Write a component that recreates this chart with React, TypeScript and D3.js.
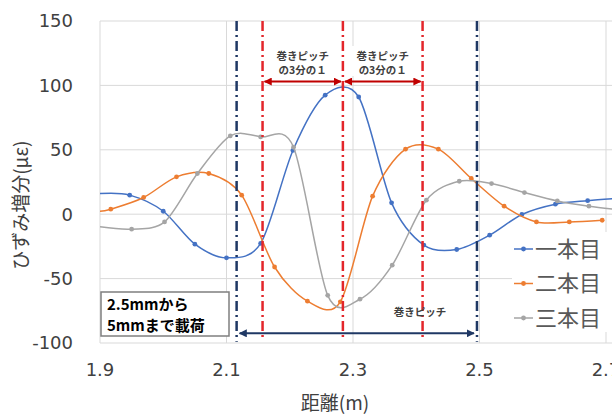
import React from "react";
import * as d3 from "d3";

const seriesNames = ["一本目", "二本目", "三本目"];
const seriesColors = ["#4472C4", "#ED7D31", "#A5A5A5"];

const blueX = [1.9, 1.947, 2.0, 2.05, 2.1, 2.154, 2.205, 2.256, 2.309, 2.361, 2.412, 2.464, 2.516, 2.567, 2.62, 2.671, 2.723];
const blueY = [16, 14.8, 2.3, -23.3, -33.9, -22.7, 49.5, 92.4, 91, 8.8, -24, -27.4, -16.3, -0.2, 7.8, 10.5, 12.4];

const orangeX = [1.9, 1.917, 1.969, 2.021, 2.072, 2.124, 2.176, 2.228, 2.28, 2.331, 2.383, 2.435, 2.487, 2.539, 2.59, 2.642, 2.694];
const orangeY = [2.3, 3.9, 13, 29, 31.6, 14.8, -41, -67.5, -68, 14, 50.5, 50.5, 27.7, 6.2, -6, -6, -4.7];

const grayX = [1.9, 1.95, 2.002, 2.054, 2.106, 2.154, 2.206, 2.26, 2.311, 2.362, 2.416, 2.468, 2.519, 2.571, 2.623, 2.673, 2.723];
const grayY = [-9.8, -11.6, -6, 31.6, 60.8, 60, 52, -63, -66, -39.6, 10.9, 25.6, 23.8, 16.8, 10.3, 6.2, 3.2];

const xTicks = [1.9, 2.1, 2.3, 2.5, 2.7];
const xTickLabels = ["1.9", "2.1", "2.3", "2.5", "2.7"];
const yTicks = [-100, -50, 0, 50, 100, 150];

const pitchLines = [2.116, 2.496];
const thirdLines = [2.157, 2.284, 2.41];

const W = 612;
const H = 417;

export default function App() {
  const x = d3.scaleLinear().domain([1.9, 2.7]).range([100, 606]);
  const y = d3.scaleLinear().domain([-100, 150]).range([343, 21]);
  const line = d3
    .line<[number, number]>()
    .x((d) => x(d[0]))
    .y((d) => y(d[1]))
    .curve(d3.curveCardinal.tension(0.1));

  const series = [
    blueX.map((v, i) => [v, blueY[i]] as [number, number]),
    orangeX.map((v, i) => [v, orangeY[i]] as [number, number]),
    grayX.map((v, i) => [v, grayY[i]] as [number, number]),
  ];

  const tickFont = "'DejaVu Sans', sans-serif";
  const jp = "'Noto Sans CJK JP', sans-serif";
  const navy = "#1F3864";
  const red = "#E3262B";
  const darkRed = "#C00000";

  const arrowY = y(103);
  const pitchArrowY = y(-92.5);

  return (
    <svg
      width={W}
      height={H}
      style={{ position: "absolute", left: 0, top: 0, background: "#fff" }}
    >
      <defs>
        <clipPath id="plot">
          <rect x={100} y={0} width={W - 100} height={344} />
        </clipPath>
        <marker id="arrRed" viewBox="0 0 10 10" refX="9" refY="5" markerWidth="4" markerHeight="4" orient="auto-start-reverse">
          <path d="M0,0 L10,5 L0,10 z" fill={darkRed} />
        </marker>
        <marker id="arrNavy" viewBox="0 0 10 10" refX="9" refY="5" markerWidth="4" markerHeight="4" orient="auto-start-reverse">
          <path d="M0,0 L10,5 L0,10 z" fill={navy} />
        </marker>
      </defs>
      <rect x={0} y={0} width={W} height={H} fill="#fff" />

      {/* gridlines */}
      {yTicks.map((t) => (
        <line key={"gy" + t} x1={100} x2={W} y1={y(t)} y2={y(t)} stroke="#D9D9D9" strokeWidth={1} />
      ))}
      {xTicks.map((t) => (
        <line key={"gx" + t} x1={x(t)} x2={x(t)} y1={y(150)} y2={y(-100)} stroke="#D9D9D9" strokeWidth={1} />
      ))}

      {/* tick labels */}
      {yTicks.map((t) => (
        <text key={"ty" + t} x={73} y={y(t)} dy="0.36em" textAnchor="end" fontFamily={tickFont} fontSize={18} fill="#404040">
          {t}
        </text>
      ))}
      {xTicks.map((t, i) => (
        <text key={"tx" + t} x={x(t)} y={376} textAnchor="middle" fontFamily={tickFont} fontSize={18} fill="#404040">
          {xTickLabels[i]}
        </text>
      ))}

      {/* axis titles */}
      <text x={335} y={410} textAnchor="middle" fontFamily={jp} fontSize={19} fill="#404040">
        距離(m)
      </text>
      <text
        transform={`translate(28,${y(7)}) rotate(-90)`}
        textAnchor="middle"
        fontFamily={jp}
        fontSize={19}
        fill="#404040"
      >
        ひずみ増分(με)
      </text>

      {/* series */}
      <g clipPath="url(#plot)">
        {series.map((pts, si) => (
          <g key={"s" + si}>
            <path d={line(pts) || ""} fill="none" stroke={seriesColors[si]} strokeWidth={1.5} />
            {pts.slice(1).map((p, i) => (
              <circle key={i} cx={x(p[0])} cy={y(p[1])} r={2.4} fill={seriesColors[si]} />
            ))}
          </g>
        ))}
      </g>

      {/* annotation vertical lines */}
      {pitchLines.map((v) => (
        <line key={"pl" + v} x1={x(v)} x2={x(v)} y1={y(150)} y2={y(-99)} stroke={navy} strokeWidth={2.5} strokeDasharray="10 4 2 4" />
      ))}
      {thirdLines.map((v) => (
        <line key={"tl" + v} x1={x(v)} x2={x(v)} y1={y(150)} y2={y(-98)} stroke={red} strokeWidth={2.5} strokeDasharray="10 4 2 4" />
      ))}

      {/* third-pitch arrows */}
      {[0, 1].map((i) => {
        const x1 = x(thirdLines[i]);
        const x2 = x(thirdLines[i + 1]);
        const cx = (x1 + x2) / 2;
        return (
          <g key={"ta" + i}>
            <rect x={cx - 36} y={46} width={72} height={30} fill="#fff" />
            <line x1={x1 + 2} x2={x2 - 2} y1={arrowY} y2={arrowY} stroke={darkRed} strokeWidth={2} markerStart="url(#arrRed)" markerEnd="url(#arrRed)" />
            <text x={cx} y={60} textAnchor="middle" fontFamily={jp} fontSize={10.5} fontWeight="bold" fill="#404040">
              巻きピッチ
            </text>
            <text x={cx} y={74} textAnchor="middle" fontFamily={jp} fontSize={10.5} fontWeight="bold" fill="#404040">
              の3分の１
            </text>
          </g>
        );
      })}

      {/* pitch arrow */}
      <line
        x1={x(pitchLines[0]) + 3}
        x2={x(pitchLines[1]) - 3}
        y1={pitchArrowY}
        y2={pitchArrowY}
        stroke={navy}
        strokeWidth={2}
        markerStart="url(#arrNavy)"
        markerEnd="url(#arrNavy)"
      />
      <text x={420} y={y(-79)} textAnchor="middle" fontFamily={jp} fontSize={10.5} fontWeight="bold" fill="#404040">
        巻きピッチ
      </text>

      {/* load box */}
      <rect x={101} y={292} width={128} height={44} fill="#fff" stroke="#7F7F7F" strokeWidth={1.5} />
      <text x={107} y={310} fontFamily={jp} fontSize={15} fontWeight="bold" fill="#000">
        2.5mmから
      </text>
      <text x={107} y={331} fontFamily={jp} fontSize={15} fontWeight="bold" fill="#000">
        5mmまで載荷
      </text>

      {/* legend */}
      <rect x={512} y={232} width={100} height={100} fill="#fff" />
      {seriesNames.map((n, i) => {
        const ly = 249 + i * 34.5;
        return (
          <g key={"lg" + i}>
            <line x1={514} x2={533} y1={ly} y2={ly} stroke={seriesColors[i]} strokeWidth={1.5} />
            <circle cx={523.5} cy={ly} r={2.4} fill={seriesColors[i]} />
            <text x={535} y={ly} dy="0.36em" fontFamily={jp} fontSize={22} fill="#595959">
              {n}
            </text>
          </g>
        );
      })}
    </svg>
  );
}
